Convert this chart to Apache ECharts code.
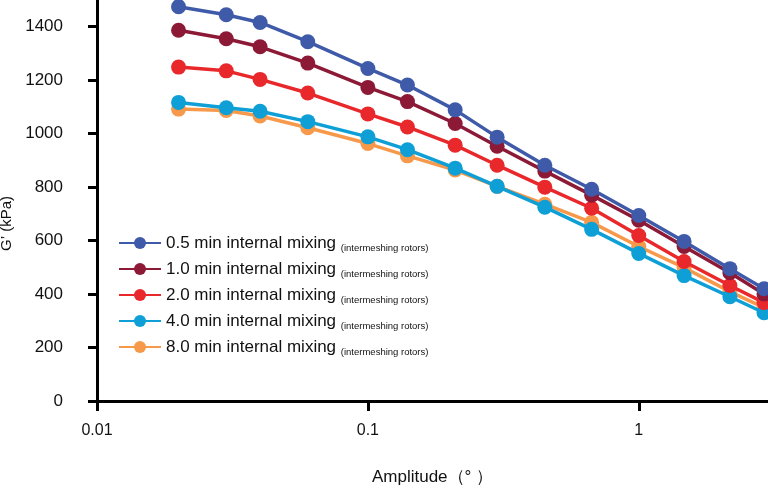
<!DOCTYPE html>
<html>
<head>
<meta charset="utf-8">
<script src="https://cdn.jsdelivr.net/npm/echarts@6/dist/echarts.min.js"></script>
<style>html,body{margin:0;padding:0;background:#fff}#c{width:768px;height:490px}</style>
</head>
<body>
<div id="c"></div>
<script>
const amplitude = [0.02, 0.03, 0.04, 0.06, 0.1, 0.14, 0.21, 0.3, 0.45, 0.67, 1.0, 1.47, 2.17, 2.9];
const seriesNames = ['0.5 min internal mixing', '1.0 min internal mixing', '2.0 min internal mixing', '4.0 min internal mixing', '8.0 min internal mixing'];
const g05 = [1475, 1445, 1416, 1344, 1244, 1182, 1089, 987, 882, 792, 694, 597, 495, 420];
const g10 = [1387, 1355, 1325, 1264, 1173, 1120, 1038, 953, 860, 770, 676, 578, 480, 400];
const g20 = [1249, 1235, 1203, 1152, 1074, 1025, 957, 882, 800, 721, 619, 522, 432, 368];
const g40 = [1117, 1097, 1084, 1045, 988, 940, 871, 803, 725, 642, 552, 469, 390, 330];
const g80 = [1092, 1087, 1066, 1022, 963, 917, 864, 803, 736, 668, 578, 499, 409, 349];
const colors = ['#3f5aa8', '#8c1a36', '#e8282b', '#0d9fd6', '#f7994b'];
const yTicks = [0, 200, 400, 600, 800, 1000, 1200, 1400];
const xTickLabels = ['0.01', '0.1', '1'];
const legendNote = '(intermeshing rotors)';

const FONT = '"Liberation Sans", Arial, sans-serif';
const allData = [g05, g10, g20, g40, g80];

function mk(i) {
  return {
    name: seriesNames[i],
    type: 'line',
    data: amplitude.map((x, k) => [x, allData[i][k]]),
    symbol: 'circle',
    symbolSize: 15,
    showSymbol: true,
    clip: false,
    lineStyle: { color: colors[i], width: 3.5 },
    itemStyle: { color: colors[i] },
    emphasis: { disabled: true },
    z: 10 - i
  };
}

const chart = echarts.init(document.getElementById('c'), null, { renderer: 'canvas' });
chart.setOption({
  animation: false,
  backgroundColor: '#fff',
  textStyle: { fontFamily: FONT },
  grid: { left: 97, right: 0, top: 0, bottom: 89, containLabel: false, outerBoundsMode: 'none' },
  legend: {
    data: seriesNames,
    orient: 'vertical',
    left: 118,
    top: 233,
    padding: 0,
    itemWidth: 42,
    itemHeight: 15,
    itemGap: 6,
    selectedMode: false,
    formatter: n => n + ' {s|' + legendNote + '}',
    textStyle: {
      fontFamily: FONT, fontSize: 17, color: '#111', lineHeight: 20,
      rich: { s: { fontFamily: FONT, fontSize: 9.5, color: '#111', lineHeight: 20, verticalAlign: 'bottom', padding: [5, 0, 0, 0] } }
    }
  },
  xAxis: {
    type: 'log',
    logBase: 10,
    min: 0.01,
    max: 3,
    name: 'Amplitude（° ）',
    nameLocation: 'middle',
    nameGap: 68,
    nameTextStyle: { fontFamily: FONT, fontSize: 17, color: '#111' },
    axisLine: { show: true, lineStyle: { color: '#000', width: 3 } },
    axisTick: { show: true, length: 10, lineStyle: { color: '#000', width: 3 } },
    minorTick: { show: false },
    splitLine: { show: false },
    axisLabel: {
      fontFamily: FONT, fontSize: 16, color: '#111', margin: 22,
      showMaxLabel: false,
      formatter: v => {
        const s = String(+v.toPrecision(3));
        return xTickLabels.indexOf(s) >= 0 ? s : '';
      }
    }
  },
  yAxis: {
    type: 'value',
    min: 0,
    max: 1500,
    interval: 200,
    name: 'G’ (kPa)',
    nameLocation: 'middle',
    nameRotate: 90,
    nameGap: 67,
    nameTextStyle: { fontFamily: FONT, fontSize: 15, color: '#111', padding: [0, 46, 0, 0] },
    axisLine: { show: true, lineStyle: { color: '#000', width: 3 } },
    axisTick: { show: true, length: 9, lineStyle: { color: '#000', width: 3 } },
    splitLine: { show: false },
    axisLabel: {
      fontFamily: FONT, fontSize: 17, color: '#111', margin: 34,
      showMaxLabel: false,
      formatter: v => yTicks.indexOf(v) >= 0 ? String(v) : ''
    }
  },
  series: [mk(4), mk(3), mk(2), mk(1), mk(0)]
});
</script>
</body>
</html>
